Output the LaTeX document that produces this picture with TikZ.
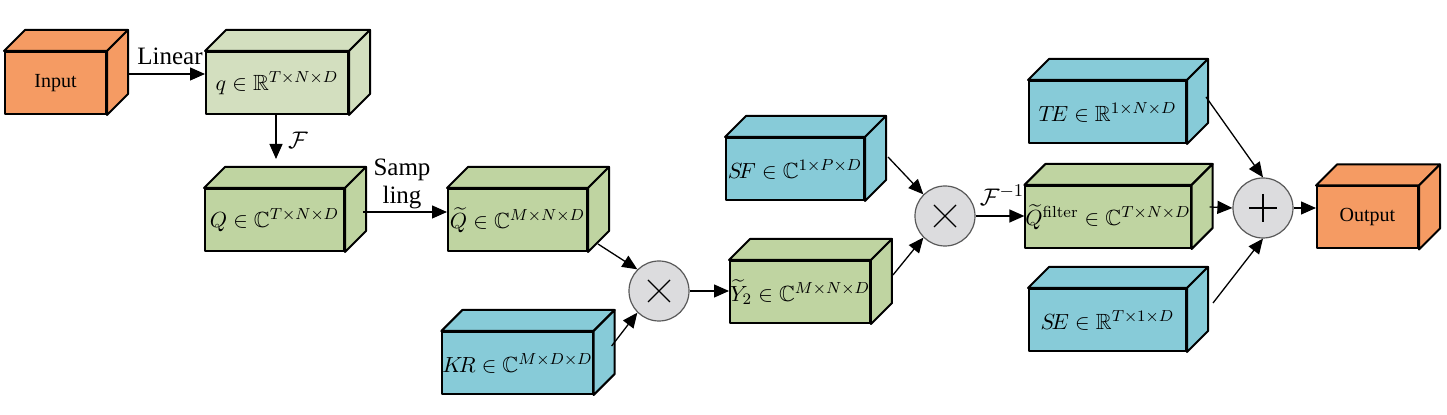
\documentclass[tikz,border=0pt]{standalone}
\usepackage{amssymb}
\usepackage[no-math]{fontspec}
\setmainfont{Liberation Serif}
\usetikzlibrary{arrows.meta,calc}
\definecolor{orangeC}{HTML}{F59B63}
\definecolor{greenL}{HTML}{D3DFBF}
\definecolor{greenC}{HTML}{BFD4A1}
\definecolor{blueC}{HTML}{87CBD8}
\definecolor{opgray}{HTML}{DCDCDE}
\newcommand\mycube[7]{%
  \node[face,fill=#6,minimum width={#4*0.5pt},minimum height={#5*0.5pt},inner sep=0pt] (#1) at (#2,#3) {#7};
  \draw[face,fill=#6] (#1.north west) -- ++(21,-21) -- ($(#1.north east)+(21,-21)$) -- (#1.north east) -- cycle;
  \draw[face,fill=#6] (#1.north east) -- ++(21,-21) -- ($(#1.south east)+(21,-21)$) -- (#1.south east) -- cycle;
}
\begin{document}
\begin{tikzpicture}[x=0.5pt,y=-0.5pt,
  face/.style={draw=black,line width=1pt,line join=round,font=\fontsize{11}{12}\selectfont},
  arr/.style={line width=0.65pt,-{Triangle[length=7.5pt,width=6.5pt]}},
  op/.style={circle,draw=gray!70!black,fill=opgray,line width=0.6pt,minimum size=30pt,inner sep=0pt},
  sym/.style={line width=0.6pt},
  lbl/.style={font=\fontsize{12.5}{13}\selectfont,inner sep=0pt}]
\useasboundingbox (0,0) rectangle (1447,415);

\mycube{in}{55.5}{83}{101}{62}{orangeC}{\fontsize{10}{12}\selectfont Input}
\mycube{q}{277}{83}{142}{62}{greenL}{$q\in\mathbb{R}^{T\times N\times D}$}
\mycube{Q}{274.5}{220}{139}{62}{greenC}{$Q\in\mathbb{C}^{T\times N\times D}$}
\mycube{Qt}{517.5}{220}{139}{62}{greenC}{$\widetilde{Q}\in\mathbb{C}^{M\times N\times D}$}
\mycube{KR}{517.5}{363}{139}{62}{blueC}{$K\!R\in\mathbb{C}^{M\times D\times D}$}
\mycube{Y}{800}{292}{138}{62}{greenC}{$\widetilde{Y}_2\in\mathbb{C}^{M\times N\times D}$}
\mycube{SF}{795}{169}{138}{62}{blueC}{$S\!F\in\mathbb{C}^{1\times P\times D}$}
\mycube{TE}{1107.5}{112}{157}{62}{blueC}{$T\!E\in\mathbb{R}^{1\times N\times D}$}
\mycube{Qf}{1108}{217}{158}{62}{greenC}{$\widetilde{Q}^{\mathrm{filter}}\in\mathbb{C}^{T\times N\times D}$}
\mycube{SE}{1107.5}{320}{157}{62}{blueC}{$S\!E\in\mathbb{R}^{T\times 1\times D}$}
\mycube{out}{1367.5}{217.5}{101}{62}{orangeC}{\fontsize{10}{12}\selectfont Output}

\node[op] (m1) at (659,291) {};
\node[op] (m2) at (945,216) {};
\node[op] (p) at (1263,208) {};
\draw[sym] ($(m1)+(-11,-11)$) -- ($(m1)+(11,11)$) ($(m1)+(-11,11)$) -- ($(m1)+(11,-11)$);
\draw[sym] ($(m2)+(-11,-11)$) -- ($(m2)+(11,11)$) ($(m2)+(-11,11)$) -- ($(m2)+(11,-11)$);
\draw[sym] ($(p)+(-14,0)$) -- ($(p)+(14,0)$) ($(p)+(0,-14)$) -- ($(p)+(0,14)$);

\draw[arr] ($(in.east)+(21,-9)$) -- ($(q.west)+(0,-9)$);
\node[lbl] (lin) at (170,56) {Linear};
\draw[arr] ($(q.south)+(-1,0)$) -- ($(Q.north)+(1.5,-29)$);
\node[lbl] (F) at (298,140) {$\mathcal{F}$};
\draw[arr] ($(Q.east)+(18,-8)$) -- ($(Qt.west)+(0,-8)$);
\node[lbl,align=center,font=\fontsize{12.5}{14}\selectfont] (samp) at (402,184) {Samp\\ling};
\draw[arr] ($(Qt.south east)+(10,-8)$) -- (m1.north west);
\draw[arr] ($(KR.east)+(18,-17)$) -- (m1.south west);
\draw[arr] (m1.east) -- (m1.east -| Y.west);
\draw[arr] ($(Y.east)+(22,-17)$) -- (m2.south west);
\draw[arr] ($(SF.east)+(23,-12)$) -- (m2.north west);
\draw[arr] (m2.east) -- (m2.east -| Qf.west);
\node[lbl] (Finv) at (1002,195) {$\mathcal{F}^{-1}$};
\draw[arr] ($(Qf.east)+(18,-10)$) -- (p.west);
\draw[arr] ($(TE.east)+(19,-15)$) -- (p.north);
\draw[arr] ($(SE.east)+(26,-17)$) -- (p.south);
\draw[arr] (p.east) -- (p.east -| out.west);
\end{tikzpicture}
\end{document}
